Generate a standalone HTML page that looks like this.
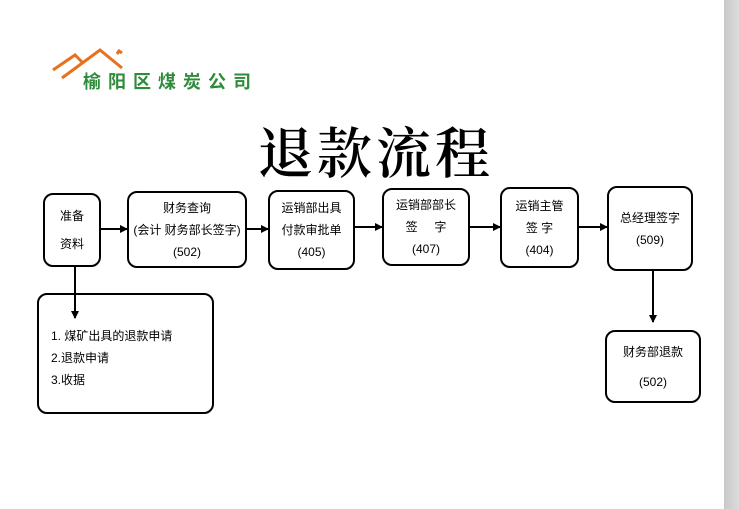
<!DOCTYPE html>
<html><head><meta charset="utf-8"><style>
html,body{margin:0;padding:0}
body{width:739px;height:509px;position:relative;background:#fff;overflow:hidden;font-family:"Liberation Sans","Noto Sans CJK SC",sans-serif;}
.gray{position:absolute;left:724px;top:0;width:15px;height:509px;background:linear-gradient(90deg,#c8c8c8,#dcdcdc);}
.box{position:absolute;border:2px solid #000;border-radius:10px;box-sizing:border-box;font-size:12px;color:#000;text-align:center;display:flex;flex-direction:column;justify-content:center;line-height:22px;}
.t{position:absolute;left:258px;top:110px;font-family:"Noto Serif CJK SC","Liberation Serif",serif;font-size:55px;letter-spacing:4px;color:#000;font-weight:600;}
.logo{position:absolute;left:83px;top:68px;font-family:"Noto Sans CJK SC",sans-serif;font-size:18px;font-weight:bold;color:#2e8b3a;letter-spacing:7px;}
svg{position:absolute;left:0;top:0}
</style></head><body>
<div class="gray"></div>
<svg width="739" height="509">
<defs><marker id="a" markerWidth="8" markerHeight="8" refX="7" refY="4" orient="auto" markerUnits="userSpaceOnUse"><path d="M0,0 L8,4 L0,8 Z" fill="#000"/></marker></defs>
<g fill="none" stroke="#e8701e" stroke-width="3">
<path d="M53,70 L75,55 L82,62"/>
<path d="M62,78 L100,50 L122,68"/>
<path d="M117,54 L119,51 L122,53"/>
</g>
<g stroke="#000" stroke-width="2" marker-end="url(#a)">
<line x1="100" y1="229" x2="127" y2="229"/>
<line x1="246" y1="229" x2="268" y2="229"/>
<line x1="354" y1="227" x2="382" y2="227"/>
<line x1="469" y1="227" x2="500" y2="227"/>
<line x1="578" y1="227" x2="607" y2="227"/>
<line x1="75" y1="266" x2="75" y2="318"/>
<line x1="653" y1="270" x2="653" y2="322"/>
</g>
</svg>
<div class="logo">榆阳区煤炭公司</div>
<div class="t">退款流程</div>
<div class="box" style="left:43px;top:193px;width:58px;height:74px;line-height:28px">准备<br>资料</div>
<div class="box" style="left:127px;top:191px;width:120px;height:77px">财务查询<br>(会计 财务部长签字)<br>(502)</div>
<div class="box" style="left:268px;top:190px;width:87px;height:80px">运销部出具<br>付款审批单<br>(405)</div>
<div class="box" style="left:382px;top:188px;width:88px;height:78px">运销部部长<br>签&nbsp;&nbsp;&nbsp;&nbsp;&nbsp;字<br>(407)</div>
<div class="box" style="left:500px;top:187px;width:79px;height:81px">运销主管<br>签 字<br>(404)</div>
<div class="box" style="left:607px;top:186px;width:86px;height:85px">总经理签字<br>(509)</div>
<div class="box" style="left:605px;top:330px;width:96px;height:73px;line-height:30px">财务部退款<br>(502)</div>
<div class="box" style="left:37px;top:293px;width:177px;height:121px;text-align:left;padding-left:12px;justify-content:flex-start;padding-top:30px">1. 煤矿出具的退款申请<br>2.退款申请<br>3.收据</div>
</body></html>
